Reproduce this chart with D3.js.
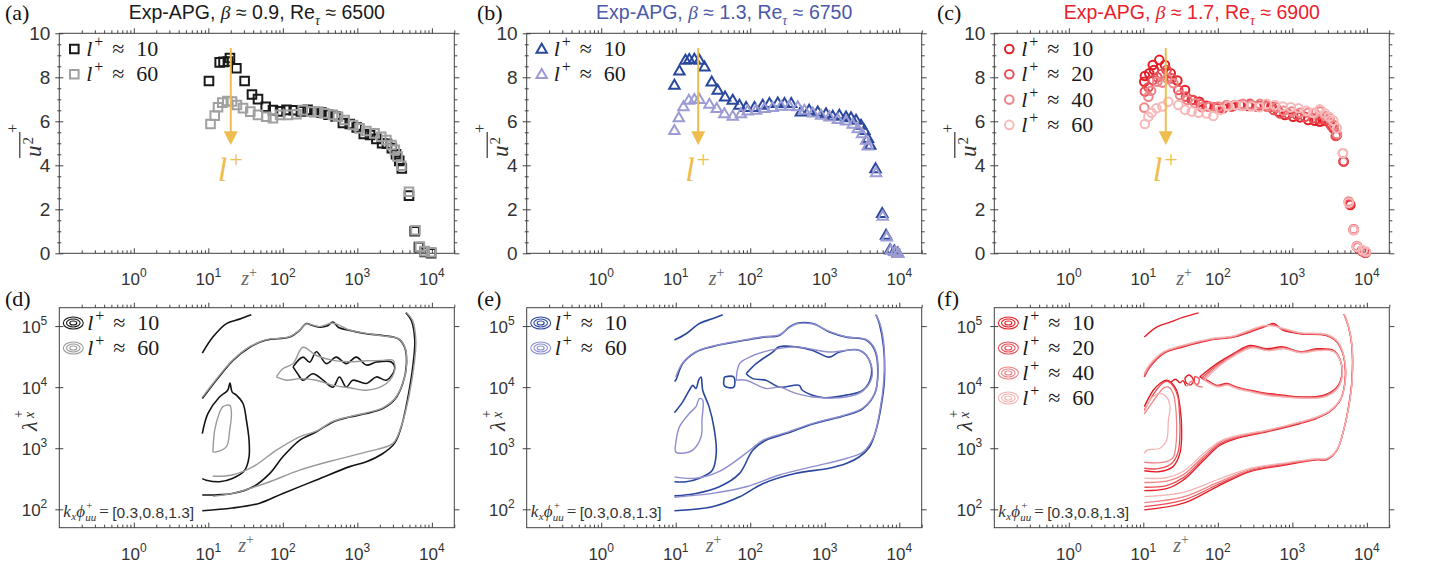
<!DOCTYPE html>
<html>
<head>
<meta charset="utf-8">
<script src="https://cdn.jsdelivr.net/npm/d3@7"></script>
<style>
  body { margin: 0; background: #fff; }
  svg text { font-family: "Liberation Sans", Arial, sans-serif; }
  svg .serif { font-family: "Liberation Serif", "DejaVu Serif", serif; }
</style>
</head>
<body>
<svg id="fig" width="1429" height="572"></svg>
<script>
'use strict';

// ---------- tick values ----------
const zMajor = [1, 10, 100, 1000, 10000];
const zExp = ['0', '1', '2', '3', '4'];
const uMajor = [0, 2, 4, 6, 8, 10];
const lamMajor = [100, 1000, 10000, 100000];
const lamExp = ['2', '3', '4', '5'];

// ---------- panel (a): Exp-APG beta 0.9, [z+, u'^2+] ----------
const aL10 = [[10.2,7.83],[14.2,8.68],[16.0,8.7],[18.3,8.72],[19.5,8.88],[23.8,8.41],[30.7,7.83],[38.5,7.22],
  [46.4,7.01],[58.9,6.66],[73.8,6.51],[92,6.45],[112,6.52],[140,6.5],[175,6.45],[215,6.52],[265,6.42],[330,6.4],
  [410,6.3],[510,6.22],[640,5.92],[790,5.88],[980,5.72],[1220,5.42],[1480,5.38],[1800,5.2],[2150,5.0],[2500,4.98],
  [2900,4.78],[3300,4.5],[3650,4.2],[3950,3.86],[4930,2.62],[5880,1.0],[6700,0.28],[8000,0.06],[9770,0.0]];
const aL60 = [[10.7,5.88],[12.2,6.26],[13.5,6.64],[15.4,6.85],[18,6.92],[20.8,6.9],[24.2,6.74],[29.2,6.6],
  [36.6,6.44],[46.4,6.29],[60,6.21],[73.8,6.14],[92,6.29],[117,6.29],[152,6.32],[185,6.51],[240,6.44],[295,6.44],
  [362,6.36],[470,6.29],[550,6.21],[675,6.06],[875,5.83],[1070,5.68],[1320,5.56],[1700,5.45],[2090,5.3],[2450,5.15],
  [2870,4.92],[3180,4.7],[3460,4.4],[3890,3.98],[4930,2.8],[6030,1.05],[6900,0.3],[8000,0.1],[9800,0.05]];

// ---------- panel (b): beta 1.3 ----------
const bL10 = [[9.6,7.65],[11.2,8.3],[13.5,8.79],[15.2,8.82],[17.8,8.83],[20.8,8.79],[24.3,8.48],[30.4,7.8],
  [36.6,7.42],[45.9,7.12],[58.2,6.97],[71.6,6.74],[88,6.64],[114,6.64],[147,6.74],[181,6.82],[234,6.85],[288,6.82],
  [355,6.82],[478,6.44],[617,6.52],[805,6.44],[1040,6.36],[1280,6.24],[1570,6.29],[1930,6.21],[2250,6.18],[2630,6.06],
  [3070,5.83],[3400,5.6],[3800,5.23],[4080,4.92],[4800,3.86],[5900,1.82],[6650,0.83],[7540,0.18],[8600,0.12],[9550,0.03]];
const bL60 = [[9.6,5.6],[11,6.18],[12.7,6.67],[15,6.97],[17.8,7.0],[20.8,7.0],[28.3,6.79],[35.5,6.59],[45,6.36],
  [58.2,6.24],[75,6.36],[92,6.48],[120,6.52],[155,6.59],[200,6.64],[259,6.7],[336,6.7],[435,6.67],[533,6.52],
  [692,6.39],[893,6.29],[1156,6.21],[1500,6.09],[1930,6.03],[2375,5.88],[2775,5.68],[3170,5.45],[3590,5.15],
  [3780,4.89],[4890,3.67],[6000,1.7],[6800,0.76],[7700,0.15],[8800,0.08],[9700,0.0]];

// ---------- panel (c): beta 1.7 ----------
const cL10 = [[10.3,7.8],[10.5,8.06],[12,8.18],[13.4,8.56],[13.9,8.33],[16.4,8.79],[19.5,8.56],[23.3,8.18],
  [28.6,7.85],[36.3,7.42],[44.7,6.97],[56.5,6.89],[70.6,6.7],[91,6.64],[118,6.59],[152,6.67],[198,6.74],[257,6.7],
  [332,6.67],[428,6.74],[524,6.67],[645,6.44],[795,6.29],[1025,6.21],[1265,6.18],[1630,6.06],[2000,6.03],[2340,5.98],
  [2740,6.03],[3170,5.91],[3550,5.68],[3960,5.38],[4870,4.17],[6000,2.2],[6650,1.06],[7350,0.3],[8550,0.12],[9500,0.03]];
const cL20 = [[10.5,7.35],[11.7,7.55],[13.4,7.88],[15.4,8.0],[17.4,8.15],[20.5,8.33],[24,7.95],[29.5,7.42],
  [37.4,7.12],[46.8,6.97],[58.9,6.77],[74.6,6.67],[96.5,6.59],[125,6.67],[161,6.7],[208,6.74],[270,6.79],[350,6.7],
  [452,6.67],[557,6.52],[685,6.36],[885,6.33],[1150,6.29],[1480,6.21],[1900,6.14],[2340,6.09],[2880,6.06],[3350,5.79],
  [3820,5.33],[4870,4.17],[5850,2.24],[6650,1.09],[7500,0.27],[8800,0.08],[9700,0.03]];
const cL40 = [[10.3,6.62],[11.7,7.12],[12.7,7.39],[15.4,7.8],[18,7.76],[21,7.95],[25.3,7.73],[31,7.2],[39,6.97],
  [49.5,6.82],[60.8,6.64],[78,6.67],[101,6.67],[131,6.74],[169,6.74],[218,6.79],[283,6.74],[367,6.79],[475,6.7],
  [600,6.64],[760,6.48],[980,6.44],[1265,6.39],[1630,6.39],[2000,6.36],[2340,6.44],[2740,6.24],[3170,6.14],[3600,5.83],
  [3960,5.42],[4770,4.55],[5700,2.35],[6650,1.09],[7350,0.33],[8800,0.12],[9700,0.06]];
const cL60 = [[10.5,5.88],[11.7,6.21],[12.9,6.39],[15,6.59],[18,6.67],[21.6,6.89],[29.5,6.74],[36.3,6.52],
  [44.7,6.44],[54.9,6.39],[70.6,6.36],[87,6.24],[109,6.52],[138,6.7],[175,6.74],[218,6.7],[283,6.67],[361,6.64],
  [452,6.79],[580,6.74],[740,6.67],[950,6.64],[1210,6.59],[1550,6.48],[1900,6.39],[2340,6.55],[2740,6.36],[3100,6.21],
  [3550,6.03],[3960,5.68],[4770,4.55],[5700,2.3],[6650,1.06],[7350,0.3],[8800,0.15],[9700,0.08]];

// ---------- panel (d): contours [z+, lambda_x+], levels 0.3/0.8/1.3 ----------
const dL10 = [
  [[8.3,95],[21,105],[49,126],[100,182],[282,302],[790,500],[1320,600],[2200,820],[3150,1200],[3890,2240],[4780,6900],[5600,24000],[5900,58000],[5300,124000],[4470,165000]],
  [[8.3,36000],[11.5,66000],[17.5,110000],[26.3,130000],[37.7,153000]],
  [[8.3,172],[21,182],[40,234],[67,388],[100,725],[168,1350],[282,1860],[470,2700],[790,3240],[1320,3700],[2200,4470],[3150,6200],[4070,11500],[4560,24000],[4310,45000],[3530,62000],[2200,70000],[1320,75000],[790,85000],[560,95000],[470,116000],[390,100000],[310,96000],[240,104000],[206,110000],[168,85000],[124,66000],[60,59000],[36,45000],[21.5,27500],[12.8,13000],[8.3,6500]],
  [[8.3,1740],[9.9,3720],[14.1,6900],[18.2,8900],[19.5,11700],[20.9,8300],[23.8,7400],[29.2,5400],[32.4,2900],[35.2,1350],[35.2,725],[30.8,437],[21.4,323],[14.1,283],[9.4,300],[8.3,318]],
  [[137,21500],[186,31000],[229,25600],[282,38000],[383,24300],[520,31000],[710,24300],[970,31000],[1320,23000],[1800,25800],[2860,25800],[3170,20000],[2450,13000],[1800,14700],[1320,11500],[870,13000],[710,10000],[575,14700],[470,10000],[347,13000],[253,16600],[186,13000],[158,16600],[137,21500]]
];
const dL60 = [
  [[11.5,163],[21,182],[60,270],[168,437],[470,630],[1320,870],[3000,1200],[3890,2300],[4900,6900],[5800,24000],[6100,58000],[5500,124000],[4600,165000]],
  [[11.5,348],[21,365],[40,500],[82,930],[168,1540],[282,1900],[470,2750],[790,3300],[1320,3800],[2200,4600],[3150,6400],[4100,11800],[4600,24000],[4350,45000],[3550,62000],[2200,69000],[1320,76000],[790,86000],[470,112000],[310,98000],[206,108000],[168,86000],[124,67000],[60,60000],[36,46000],[21.5,28000],[12.8,13500],[8.3,6800]],
  [[11.5,870],[12.2,2000],[14,3720],[15.7,4800],[19.4,5040],[20.4,3720],[19.4,2000],[17.4,1050],[12.8,870],[11.5,870]],
  [[82,14700],[100,20000],[137,24300],[186,45000],[282,33000],[470,27500],[790,26000],[1320,27000],[2200,27500],[3000,27500],[3170,19000],[2450,11500],[1320,8900],[790,9800],[470,10700],[282,13000],[168,13800],[112,13000],[82,14700]]
];

// ---------- panel (e) ----------
const eL10 = [
  [[9.6,95],[31,110],[72,160],[147,263],[412,390],[1150,470],[1940,560],[2920,725],[3980,1050],[4890,2000],[5700,4800],[6310,13000],[6150,46000],[5400,110000],[4890,153000]],
  [[9.6,59000],[13.8,75000],[20.8,110000],[31,132000],[42.7,153000]],
  [[9.6,166],[18.7,182],[38.5,234],[72,388],[108,930],[162,1350],[302,1740],[690,2500],[1940,3470],[3250,4470],[4700,7900],[5150,19000],[4700,40000],[3600,59000],[1940,66000],[1150,80000],[690,110000],[412,110000],[330,95000],[245,70000],[150,66000],[88,59000],[31,46000],[18.7,37600],[12.4,24300],[10,13000],[9.6,12500]],
  [[9.6,3800],[12.4,5750],[15.2,8900],[16.9,10700],[18.7,9500],[20.3,13000],[21.9,14700],[23,8900],[28,4800],[33,2000],[35,830],[31,437],[20.8,323],[13.8,283],[9.6,283]],
  [[45,14700],[60,14700],[60,10000],[45,10500],[45,14700]],
  [[88,16600],[120,24300],[200,37600],[245,45700],[412,45700],[690,40000],[1150,31000],[1580,37600],[2950,40000],[3980,27500],[4170,14700],[3250,8900],[1940,7400],[930,6760],[500,8900],[455,10700],[245,10000],[162,13000],[108,13800],[88,16600]]
];
const eL60 = [
  [[9.6,158],[31,182],[88,234],[245,365],[690,500],[1940,680],[3250,870],[4500,1500],[5400,3700],[6200,13000],[6250,46000],[5500,110000],[4800,155000]],
  [[9.6,340],[18.7,323],[38.5,418],[88,830],[147,1350],[302,1800],[690,2550],[1940,3550],[3250,4550],[4700,8000],[5200,19500],[4750,41000],[3650,60000],[1940,67000],[1150,82000],[690,108000],[412,108000],[330,93000],[245,72000],[150,67000],[88,60000],[31,47000],[18.7,38000],[12.4,25000],[10,14700]],
  [[10,1200],[11.2,2240],[15.2,3700],[18.7,4800],[20.8,6500],[23,6200],[22.5,2900],[21.9,1540],[16.9,930],[12.4,830],[10,870],[10,1200]],
  [[64.7,13000],[72,24300],[98,31000],[181,40000],[412,45700],[1150,37600],[2950,40000],[3980,27500],[4300,14700],[3250,8700],[1940,6900],[690,6900],[412,7900],[245,10000],[162,9500],[88,13000],[64.7,13000]]
];

// ---------- panel (f) ----------
const fL10 = [
  [[10.3,98],[34.5,126],[97,234],[270,415],[755,525],[2130,645],[2880,650],[3960,930],[4890,2000],[5680,4800],[6300,13000],[6300,46000],[5680,96000],[4920,158000]],
  [[10.3,66000],[15.1,96000],[22.8,116000],[34.5,140000],[55,165000]],
  [[10.3,202],[20.5,218],[34.5,302],[64,630],[107,1120],[179,1450],[455,1860],[1270,2540],[2130,3100],[3200,4000],[4400,6200],[5100,13000],[4900,31000],[3960,55000],[2880,70000],[1270,75000],[755,85000],[560,110000],[410,96000],[270,80000],[162,66000],[79,59000],[34.5,45700],[18.6,35500],[12.3,21500],[10.3,14700]],
  [[10.3,4800],[13.6,8900],[16.7,11500],[20.5,13000],[23.5,12000],[28,8900],[31,4800],[32.7,2000],[31,830],[25,500],[16.7,415],[10.3,427]],
  [[57,14700],[97,24300],[162,35500],[270,48000],[455,42500],[755,45700],[1270,37600],[2130,42500],[3560,40000],[4400,27500],[4600,15500],[3960,10000],[2650,7400],[1270,6900],[755,7400],[455,7900],[270,8900],[179,10000],[131,11500],[97,10700],[71,13000],[57,14700]],
  [[36,14000],[41,15800],[47,13200],[44,11000],[38,11600],[36,14000]],
  [[23.5,12000],[27,13500],[31,11800],[34,12800],[37,10500]]
];
const fL20 = [
  [[10.3,111],[34.5,141],[97,250],[270,428],[755,540],[2130,655],[2880,660],[3960,935],[4890,2000],[5700,4800],[6320,13000],[6320,46000],[5700,96000],[4940,158000]],
  [[10.3,230],[20.5,245],[34.5,330],[64,680],[107,1180],[179,1500],[455,1900],[1270,2600],[2130,3150],[3200,4050],[4420,6300],[5120,13000],[4920,31000],[3980,55000],[2880,71000],[1270,76000],[755,88000],[560,105000],[410,98000],[270,82000],[162,67000],[79,60000],[34.5,47000],[18.6,36000],[12.3,22000],[10.3,15000]],
  [[10.3,4200],[14,8000],[18,11500],[21,12500],[25,10500],[29,7000],[30.5,3800],[31,1800],[29,830],[23,540],[15,460],[10.3,470]],
  [[60,14000],[100,23500],[165,34500],[275,46000],[460,41000],[760,44000],[1280,38000],[2140,41000],[3580,39000],[4420,27000],[4620,15500],[3980,9800],[2660,7200],[1280,6800],[760,7200],[460,7700],[275,8700],[180,9800],[132,11200],[98,10500],[72,12500],[60,14000]],
  [[49,15000],[56,13800],[54,11200],[49,11800],[49,15000]]
];
const fL40 = [
  [[10.3,129],[34.5,160],[97,270],[270,447],[755,555],[2130,665],[2880,670],[3960,940],[4890,2000],[5720,4800],[6340,13000],[6340,46000],[5720,96000],[4960,158000]],
  [[10.3,275],[20.5,290],[34.5,370],[64,740],[107,1250],[179,1550],[455,1940],[1270,2650],[2130,3200],[3200,4100],[4440,6400],[5140,13000],[4940,31000],[4000,56000],[2880,72000],[1270,77000],[755,90000],[560,102000],[410,100000],[270,84000],[162,68000],[79,61000],[34.5,48000],[18.6,37000],[12.3,23000],[10.3,16000]],
  [[10.3,3600],[15,7000],[19,9800],[22,10000],[25,8000],[27,5000],[28,2500],[27.5,1200],[25,700],[19,590],[10.3,590]],
  [[63,13500],[103,23000],[168,34000],[280,45000],[465,40000],[765,43000],[1290,37000],[2150,40000],[3600,38500],[4440,26500],[4640,15000],[4000,9600],[2670,7000],[1290,6700],[765,7000],[465,7500],[280,8500],[181,9600],[133,11000],[99,10300],[74,12000],[63,13500]],
  [[38,10200],[45,12500],[52,10600],[63,10000]]
];
const fL60 = [
  [[10.3,161],[34.5,190],[97,302],[270,468],[755,570],[2130,675],[2880,680],[3960,945],[4890,2000],[5740,4800],[6360,13000],[6360,46000],[5740,96000],[4980,158000]],
  [[10.3,323],[20.5,330],[34.5,420],[64,820],[107,1300],[179,1600],[455,1980],[1270,2700],[2130,3250],[3200,4150],[4460,6500],[5160,13000],[4960,31000],[4020,57000],[2880,73000],[1270,78000],[755,92000],[560,100000],[410,102000],[270,86000],[162,69000],[79,62000],[34.5,49000],[18.6,38000],[12.3,24000],[10.3,17000]],
  [[10.3,820],[11.2,930],[16.7,1000],[20.5,1350],[21.7,2900],[22.8,4800],[20.5,6900],[16.7,7900],[12.3,6200],[10.3,3700]],
  [[66,13000],[106,22500],[172,33500],[285,44000],[470,39500],[770,42500],[1300,36500],[2160,39500],[3620,38000],[4460,26000],[4660,14800],[4020,9400],[2680,6900],[1300,6600],[770,6900],[470,7300],[285,8300],[182,9400],[134,10800],[100,10100],[76,11800],[66,13000]]
];

// ---------- layout ----------
const svg = d3.select('#fig');
const cols = [{x0: 59.3, x1: 454.3}, {x0: 526.7, x1: 921.7}, {x0: 994.3, x1: 1389.3}];
const rowTop = {y0: 33.3, y1: 253.3};
const rowBot = {y0: 307.7, y1: 527.7};
const axisColor = '#404040';
const textColor = '#333';
const gold = '#eebd50';

const topPanels = [
  {label: '(a)', title: ['0.9', '6500'], titleColor: '#1a1a1a', marker: 'square',
   series: [{data: aL10, color: '#1a1a1a', name: '10'}, {data: aL60, color: '#a0a0a0', name: '60'}]},
  {label: '(b)', title: ['1.3', '6750'], titleColor: '#4a59a8', marker: 'triangle',
   series: [{data: bL10, color: '#2a479e', name: '10'}, {data: bL60, color: '#9c9cd4', name: '60'}]},
  {label: '(c)', title: ['1.7', '6900'], titleColor: '#e8222c', marker: 'circle',
   series: [{data: cL10, color: '#e41e26', name: '10'}, {data: cL20, color: '#ea4d55', name: '20'},
            {data: cL40, color: '#f08387', name: '40'}, {data: cL60, color: '#f7b9b9', name: '60'}]}
];
const botPanels = [
  {label: '(d)', series: [{data: dL10, color: '#141414', w: 1.6, name: '10'}, {data: dL60, color: '#9a9a9a', w: 1.4, name: '60'}]},
  {label: '(e)', series: [{data: eL10, color: '#2a479e', w: 1.6, name: '10'}, {data: eL60, color: '#8e8ecf', w: 1.4, name: '60'}]},
  {label: '(f)', series: [{data: fL10, color: '#e41e26', w: 1.4, name: '10'}, {data: fL20, color: '#ea4d55', w: 1.3, name: '20'},
                          {data: fL40, color: '#f08387', w: 1.3, name: '40'}, {data: fL60, color: '#f6b3b3', w: 1.3, name: '60'}]}
];

// minor ticks of the log z axis
const zMinor = [];
for (let e = -1; e <= 4; e++) for (let m = 2; m <= 9; m++) { const v = m * Math.pow(10, e); if (v <= 2e4) zMinor.push(v); }
const uMinor = d3.range(0, 10.01, 0.5).filter(v => v % 2 !== 0);

function styleAxis(g) {
  g.select('.domain').remove();
  g.selectAll('.tick line').attr('stroke', axisColor).attr('stroke-width', 1);
  g.selectAll('.tick text').remove();
}

// frame with MATLAB-like ticks: x ticks drawn upward, left ticks crossing, right ticks outward
function drawFrame(g, x, y, yMajor, yMinor) {
  const [x0, x1] = x.range();
  const [y1, y0] = y.range();
  g.append('g').attr('transform', `translate(0,${y1})`).call(d3.axisTop(x).tickValues(zMajor).tickSize(5)).call(styleAxis);
  g.append('g').attr('transform', `translate(0,${y1})`).call(d3.axisTop(x).tickValues(zMinor).tickSize(3)).call(styleAxis);
  g.append('g').attr('transform', `translate(0,${y0})`).call(d3.axisTop(x).tickValues(zMajor).tickSize(5)).call(styleAxis);
  g.append('g').attr('transform', `translate(0,${y0})`).call(d3.axisTop(x).tickValues(zMinor).tickSize(3)).call(styleAxis);
  g.append('g').attr('transform', `translate(${x0 + 4},0)`).call(d3.axisLeft(y).tickValues(yMajor).tickSize(8)).call(styleAxis);
  g.append('g').attr('transform', `translate(${x1},0)`).call(d3.axisRight(y).tickValues(yMajor).tickSize(5)).call(styleAxis);
  if (yMinor) {
    g.append('g').attr('transform', `translate(${x0 + 2},0)`).call(d3.axisLeft(y).tickValues(yMinor).tickSize(4)).call(styleAxis);
    g.append('g').attr('transform', `translate(${x1},0)`).call(d3.axisRight(y).tickValues(yMinor).tickSize(3)).call(styleAxis);
  }
  g.append('rect').attr('x', x0).attr('y', y0).attr('width', x1 - x0).attr('height', y1 - y0)
    .attr('fill', 'none').attr('stroke', axisColor).attr('stroke-width', 1);
  // x tick labels 10^n
  zMajor.forEach((v, i) => {
    const t = g.append('text').attr('x', x(v)).attr('y', y1 + 32).attr('text-anchor', 'middle')
      .attr('font-size', 17).attr('fill', textColor);
    t.append('tspan').text('10');
    t.append('tspan').attr('font-size', 12).attr('dy', -8).text(zExp[i]);
  });
}

function powLabelY(g, x0, y, vals, exps) {
  vals.forEach((v, i) => {
    const t = g.append('text').attr('x', x0 - 12).attr('y', y(v) + 7).attr('text-anchor', 'end')
      .attr('font-size', 17).attr('fill', textColor);
    t.append('tspan').text('10');
    t.append('tspan').attr('font-size', 12).attr('dy', -8).text(exps[i]);
  });
}

// "l+ ≈ N" legend entry, pieces placed at fixed offsets
function legendText(g, x, y, val) {
  const mk = () => g.append('text').attr('class', 'serif').attr('y', y).attr('font-size', 22).attr('fill', '#1a1a1a');
  mk().attr('x', x).attr('font-style', 'italic').text('l');
  mk().attr('x', x + 8).attr('y', y - 9).attr('font-size', 16).text('+');
  mk().attr('x', x + 26).text('\u2248');
  mk().attr('x', x + 50).text(val);
}

function panelLabel(x, y, s) {
  svg.append('text').attr('class', 'serif').attr('x', x).attr('y', y).attr('font-size', 22).attr('fill', '#111').text(s);
}

function zLabel(x, y) {
  const t = svg.append('text').attr('class', 'serif').attr('x', x).attr('y', y).attr('font-size', 20).attr('fill', '#666');
  t.append('tspan').attr('font-style', 'italic').text('z');
  t.append('tspan').attr('font-size', 14).attr('dy', -8).text('+');
}

const markerPath = {
  square: 'M-4.3,-4.3H4.3V4.3H-4.3Z',
  triangle: 'M0,-5.2L5.2,3.8H-5.2Z'
};
function drawMarker(sel, type, color) {
  if (type === 'circle') {
    sel.append('circle').attr('r', 4.3).attr('fill', 'none').attr('stroke', color).attr('stroke-width', 2);
  } else {
    sel.append('path').attr('d', markerPath[type]).attr('fill', 'none').attr('stroke', color).attr('stroke-width', 2);
  }
}

// ---------- top row ----------
topPanels.forEach((p, i) => {
  const c = cols[i];
  const x = d3.scaleLog().domain([0.1, 2e4]).range([c.x0, c.x1]);
  const y = d3.scaleLinear().domain([0, 10]).range([rowTop.y1, rowTop.y0]);
  const g = svg.append('g');
  drawFrame(g, x, y, uMajor, uMinor);
  uMajor.forEach(v => {
    g.append('text').attr('x', c.x0 - 9).attr('y', y(v) + 7).attr('text-anchor', 'end')
      .attr('font-size', 19).attr('fill', textColor).text(v);
  });

  p.series.forEach(s => {
    g.append('g').selectAll('g').data(s.data).join('g')
      .attr('transform', d => `translate(${x(d[0])},${y(d[1])})`)
      .each(function () { drawMarker(d3.select(this), p.marker, s.color); });
  });

  // legend
  p.series.forEach((s, k) => {
    const ly = 49 + k * 25.3;
    drawMarker(g.append('g').attr('transform', `translate(${c.x0 + 15},${ly})`), p.marker, s.color);
    legendText(g, c.x0 + 27, ly + 7, s.name);
  });

  // golden arrow l+
  const ax = x(20);
  g.append('line').attr('x1', ax).attr('x2', ax).attr('y1', y(9.33)).attr('y2', y(5.4))
    .attr('stroke', gold).attr('stroke-width', 2);
  g.append('path').attr('d', `M${ax - 7},${y(5.55)}L${ax + 7},${y(5.55)}L${ax},${y(4.92)}Z`).attr('fill', gold);
  const lt = g.append('text').attr('class', 'serif').attr('x', ax - 13).attr('y', y(3.3)).attr('font-size', 34).attr('fill', gold);
  lt.append('tspan').attr('font-style', 'italic').text('l');
  lt.append('tspan').attr('font-size', 24).attr('dx', 2).attr('dy', -14).text('+');

  // title
  const tt = svg.append('text').attr('x', (c.x0 + c.x1) / 2).attr('y', 19).attr('text-anchor', 'middle')
    .attr('font-size', 19.5).attr('fill', p.titleColor);
  tt.append('tspan').text('Exp-APG, ');
  tt.append('tspan').attr('class', 'serif').attr('font-style', 'italic').text('\u03b2');
  tt.append('tspan').text(' \u2248 ' + p.title[0] + ', Re');
  tt.append('tspan').attr('class', 'serif').attr('font-style', 'italic').attr('font-size', 14).attr('dy', 6).text('\u03c4');
  tt.append('tspan').attr('dy', -6).text(' \u2248 ' + p.title[1]);

  panelLabel([5, 477, 937][i], 20, p.label);
  zLabel(c.x0 + 182, 285);

  // y label: overline u^2, superscript +
  const yl = svg.append('g').attr('transform', `translate(${c.x0 - 18.5},157) rotate(-90)`);
  const yt = yl.append('text').attr('class', 'serif').attr('font-size', 23).attr('fill', textColor);
  yt.append('tspan').attr('font-style', 'italic').text('u');
  yt.append('tspan').attr('font-size', 15).attr('dy', -8).attr('dx', 1).text('2');
  yl.append('line').attr('x1', -1).attr('x2', 25).attr('y1', -21).attr('y2', -21).attr('stroke', textColor).attr('stroke-width', 1.2);
  yl.append('text').attr('class', 'serif').attr('x', 24).attr('y', -23).attr('font-size', 16).attr('fill', textColor).text('+');
});

// ---------- bottom row ----------
botPanels.forEach((p, i) => {
  const c = cols[i];
  const x = d3.scaleLog().domain([0.1, 2e4]).range([c.x0, c.x1]);
  const y = d3.scaleLog().domain([50, 2e5]).range([rowBot.y1, rowBot.y0]);
  const g = svg.append('g');
  const clipId = 'clip' + i;
  g.append('clipPath').attr('id', clipId).append('rect')
    .attr('x', c.x0).attr('y', rowBot.y0).attr('width', c.x1 - c.x0).attr('height', rowBot.y1 - rowBot.y0);
  const line = d3.line().x(d => x(d[0])).y(d => y(d[1])).curve(d3.curveCatmullRom.alpha(0.5));
  p.series.forEach(s => {
    g.append('g').attr('clip-path', `url(#${clipId})`).selectAll('path').data(s.data).join('path')
      .attr('d', line).attr('fill', 'none').attr('stroke', s.color).attr('stroke-width', s.w)
      .attr('stroke-linejoin', 'round');
  });
  drawFrame(g, x, y, lamMajor, null);
  powLabelY(g, c.x0, y, lamMajor, lamExp);

  // legend with concentric ellipses
  p.series.forEach((s, k) => {
    const ly = 323 + k * 25;
    const lg = g.append('g').attr('transform', `translate(${c.x0 + 14},${ly})`);
    [[10, 6], [6.8, 4], [3.5, 2]].forEach(r => {
      lg.append('ellipse').attr('rx', r[0]).attr('ry', r[1]).attr('fill', 'none').attr('stroke', s.color).attr('stroke-width', 1.1);
    });
    legendText(g, c.x0 + 28, ly + 7, s.name);
  });

  // level annotation k_x phi_uu^+ = [...]
  const mk = (dx, yy, size) => g.append('text').attr('class', 'serif').attr('x', c.x0 + dx).attr('y', yy)
    .attr('font-size', size).attr('fill', textColor);
  mk(4, 517, 17).attr('font-style', 'italic').text('k');
  mk(12, 520, 11).attr('font-style', 'italic').text('x');
  mk(17, 517, 17).attr('font-style', 'italic').text('\u03d5');
  mk(26, 521, 11).attr('font-style', 'italic').text('uu');
  mk(27, 509, 11).text('+');
  mk(40, 517, 17).text('=');
  g.append('text').attr('x', c.x0 + 53).attr('y', 518).attr('font-size', 15.5).attr('fill', textColor).text('[0.3,0.8,1.3]');

  panelLabel([5, 477, 937][i], 306, p.label);
  zLabel(c.x0 + 179, 552);

  // y label lambda_x^+
  const yl = svg.append('g').attr('transform', `translate(${c.x0 - 22},431) rotate(-90)`);
  const yt = yl.append('text').attr('class', 'serif').attr('font-size', 22).attr('fill', textColor);
  yt.append('tspan').attr('font-style', 'italic').text('\u03bb');
  yl.append('text').attr('class', 'serif').attr('font-style', 'italic').attr('x', 13).attr('y', -3).attr('font-size', 14).attr('fill', textColor).text('x');
  yl.append('text').attr('class', 'serif').attr('x', 13).attr('y', -14).attr('font-size', 14).attr('fill', textColor).text('+');
});
</script>
</body>
</html>
